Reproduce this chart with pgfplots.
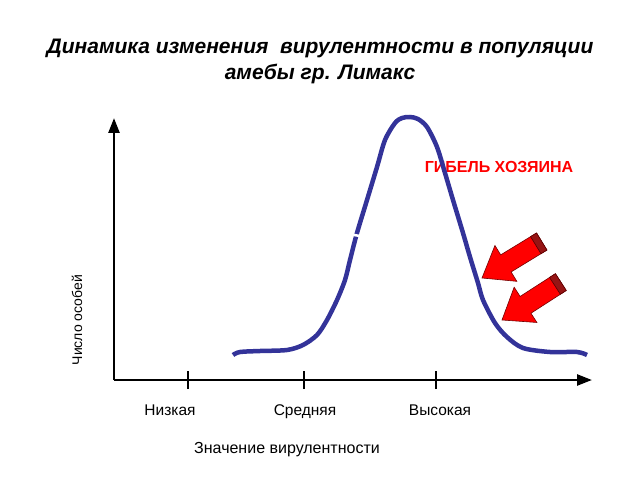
\documentclass[border=0pt]{standalone}
\usepackage{fontspec}
\setmainfont{Liberation Sans}
\usepackage{pgfplots}
\pgfplotsset{compat=1.18}
\usetikzlibrary{arrows.meta}
\definecolor{curvecol}{RGB}{51,51,153}
\definecolor{darr}{RGB}{150,20,20}
\newcommand{\blockarrow}[2]{%
  \filldraw[fill=red, draw=red!45!black, line width=0.6pt, shift={(axis cs:#1)}, rotate=#2]
    (0pt,0pt) -- (28pt,-21pt) -- (28pt,-10pt) -- (70pt,-10pt) -- (70pt,10pt) -- (28pt,10pt) -- (28pt,21pt) -- cycle;
  \filldraw[fill=darr, draw=red!35!black, line width=0.6pt, shift={(axis cs:#1)}, rotate=#2]
    (63pt,-10pt) -- (70pt,-10pt) -- (70pt,10pt) -- (63pt,10pt) -- cycle;
}
\begin{document}
\begin{tikzpicture}
\begin{axis}[x=1pt, y=1pt, xmin=114, xmax=592, ymin=0, ymax=262,
  enlargelimits=false, clip=false, set layers,
  axis x line=bottom, axis y line=left,
  axis line style={line width=2.5pt, -{Triangle[length=15pt,width=11pt]}},
  ytick=\empty,
  xtick={170,305,440}, xticklabels={Низкая,Средняя,Высокая},
  major tick length=0pt,
  xticklabel style={font=\fontsize{15.5}{18}\selectfont, yshift=-21pt},
  extra x ticks={188,304,436}, extra x tick labels={},
  extra x tick style={major tick length=18pt, tick align=center,
    tick style={line width=2.5pt, black}},
]
\path (axis cs:0,-100) rectangle (axis cs:640,380);
\begin{pgfonlayer}{axis background}
\node[text=red, font=\fontsize{16}{18}\selectfont\bfseries] at (axis cs:499,213) {ГИБЕЛЬ ХОЗЯИНА};
\end{pgfonlayer}
\addplot[curvecol, line width=4.5pt, smooth, tension=0.5] coordinates {
(233,25) (240,28) (260,29) (287,30) (303,35) (317,45) (327,60) (337,80)
(345,100) (350,120) (357,147) (367,180) (377,213) (385,240) (395,257)
(402,262) (410,263) (418,261) (427,253) (437,233) (445,207) (453,180)
(463,147) (470,123) (478,97) (483,80) (495,57) (507,43) (523,32)
(550,28) (577,28) (587,25)};
\draw[white, line width=2.5pt] (axis cs:348,146) -- (axis cs:366,143);
\blockarrow{482,102}{31.4}
\blockarrow{502,60}{32.8}
\node[font=\fontsize{21}{24}\selectfont\bfseries\itshape] at (axis cs:320,332) {Динамика изменения \ вирулентности в популяции};
\node[font=\fontsize{21}{24}\selectfont\bfseries\itshape] at (axis cs:320,306) {амебы гр. Лимакс};
\node[rotate=90, font=\fontsize{14}{16}\selectfont] at (axis cs:77,60) {Число особей};
\node[font=\fontsize{16}{18}\selectfont] at (axis cs:287,-70) {Значение вирулентности};
\end{axis}
\end{tikzpicture}
\end{document}
